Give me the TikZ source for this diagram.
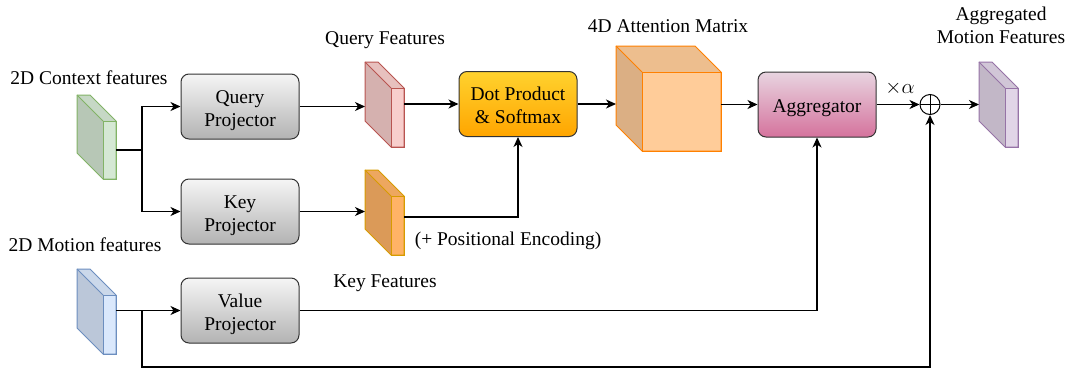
\documentclass[tikz,border=0pt]{standalone}
\usepackage{fontspec}
\setmainfont{Liberation Serif}
\usetikzlibrary{arrows.meta,calc}

\definecolor{gfill}{HTML}{D5E8D4}\definecolor{gline}{HTML}{82B366}
\definecolor{bfill}{HTML}{DAE8FC}\definecolor{bline}{HTML}{6C8EBF}
\definecolor{rfill}{HTML}{F8CECC}\definecolor{rline}{HTML}{B85450}
\definecolor{ofill}{HTML}{FFB366}\definecolor{oline}{HTML}{D79B00}
\definecolor{pfill}{HTML}{E1D5E7}\definecolor{pline}{HTML}{9673A6}
\definecolor{afill}{HTML}{FFCC99}\definecolor{aline}{HTML}{FF8000}
\definecolor{gtop}{HTML}{F5F5F5}\definecolor{gbot}{HTML}{B3B3B3}
\definecolor{ytop}{HTML}{FFD22E}\definecolor{ybot}{HTML}{FFA500}
\definecolor{mtop}{HTML}{E8D4E0}\definecolor{mbot}{HTML}{D5739D}
\definecolor{edge}{HTML}{333333}

% A feature slab / cube drawn with a cut top-left corner.
% #1 name, #2 x, #3 y (top-left), #4 width, #5 height, #6 depth, #7 fill, #8 stroke
\newcommand{\featslab}[8]{%
  \fill[#7!86!black] (#2,#3) -- ({#2+#4-#6},#3) -- ({#2+#4},{#3+#6}) -- ({#2+#4},{#3+#5})
     -- ({#2+#6},{#3+#5}) -- (#2,{#3+#5-#6}) -- cycle;
  \fill[#7!93!black] (#2,#3) -- ({#2+#4-#6},#3) -- ({#2+#4},{#3+#6}) -- ({#2+#6},{#3+#6}) -- cycle;
  \node[draw=#8, fill=#7, line width=1pt, inner sep=0pt, outer sep=0pt,
        minimum width={(#4-#6)*1pt}, minimum height={(#5-#6)*1pt}, anchor=north west]
        (#1-f) at ({#2+#6},{#3+#6}) {};
  \draw[#8, line width=1pt, line join=round] (#2,#3) -- ({#2+#4-#6},#3) -- ({#2+#4},{#3+#6})
     -- ({#2+#4},{#3+#5}) -- ({#2+#6},{#3+#5}) -- (#2,{#3+#5-#6}) -- cycle;
  \draw[#8, line width=1pt] (#2,#3) -- ({#2+#6},{#3+#6});
  \node[inner sep=0pt, outer sep=0pt, minimum width={#4*1pt}, minimum height={#5*1pt},
        anchor=north west] (#1) at (#2,#3) {};
}

% centred block text, set slightly below the middle of its box
\newcommand{\bx}[1]{\raisebox{-3.5pt}[\height][\depth]{\begin{tabular}{@{}c@{}}#1\end{tabular}}}

\tikzset{
  every node/.style={font=\fontsize{19.5}{23}\selectfont},
  box/.style={draw=edge, line width=1pt, rounded corners=8pt,
              minimum width=118pt, minimum height=65pt, inner sep=0pt},
  proj/.style={box, top color=gtop, bottom color=gbot},
  arr/.style={-{Stealth[length=10pt,width=9pt,inset=3pt]}, line width=1.1pt},
  wire/.style={line width=1.1pt},
  label/.style={inner sep=0pt, align=center}
}

\begin{document}
\begin{tikzpicture}[x=1pt,y=-1pt]
\useasboundingbox (0,0) rectangle (1070,370);

% feature maps
\featslab{ctx}{77}{95}{39}{84}{26}{gfill}{gline}
\featslab{mot}{77}{269}{39}{85}{26}{bfill}{bline}
\featslab{qf}{365}{62}{39}{85}{26}{rfill}{rline}
\featslab{kf}{365}{170}{39}{85}{26}{ofill}{oline}
\featslab{of}{979}{62}{39}{85}{26}{pfill}{pline}
\featslab{am}{616}{46}{105}{105}{26}{afill}{aline}

% processing blocks
\node[proj] (qp) at (240,106.5) {\bx{Query\\Projector}};
\node[proj] (kp) at (240,211.5) {\bx{Key\\Projector}};
\node[proj] (vp) at (240,310.5) {\bx{Value\\Projector}};
\node[box, top color=ytop, bottom color=ybot] (dp) at (518,104) {\bx{Dot Product\\\& Softmax}};
\node[box, top color=mtop, bottom color=mbot] (ag) at (817,104.5) {\bx{Aggregator}};
\node[draw=black, line width=1pt, circle, minimum size=20pt, inner sep=0pt,
      path picture={\draw[line width=1pt] (path picture bounding box.north) -- (path picture bounding box.south)
                    (path picture bounding box.west) -- (path picture bounding box.east);}]
      (op) at (930,104.5) {};

% labels
\node[label] (l1) at (89,78) {2D Context features};
\node[label] (l2) at (85,245) {2D Motion features};
\node[label] (l3) at (385,40) {Query Features};
\node[label] (l4) at (385,283) {Key Features};
\node[label] (l5) at (668,26) {4D Attention Matrix};
\node[label] (l6) at (508,241) {(+ Positional Encoding)};
\node[label] (l7) at (1001,25) {Aggregated\\Motion Features};
\node[label] (l8) at (900,88) {$\times\alpha$};

% connectors
\coordinate (cb) at (142,150);
\draw[wire] (ctx-f.east) -- (cb);
\draw[arr] (cb) |- (qp.west);
\draw[arr] (cb) |- (kp.west);
\draw[arr] (qp.east) -- (qp.east -| qf.west);
\draw[arr] (kp.east) -- (kp.east -| kf.west);
\draw[arr] (qf.east |- dp.west) -- (dp.west);
\draw[arr] ([yshift=-4.5pt]kf.east) -| (dp.south);
\draw[arr] (dp.east) -- (dp.east -| am.west);
\draw[arr] (am.east |- ag.west) -- (ag.west);
\draw[arr] (ag.east) -- (op.west);
\draw[arr] (op.east) -- (op.east -| of.west);
\draw[arr] (vp.west -| mot.east) -- (vp.west);
\draw[arr] (vp.east) -| (ag.south);
\coordinate (vb) at (142,310.5);
\coordinate (vr) at (142,367);
\draw[arr] (vb) -- (vr) -| (op.south);
\end{tikzpicture}
\end{document}
